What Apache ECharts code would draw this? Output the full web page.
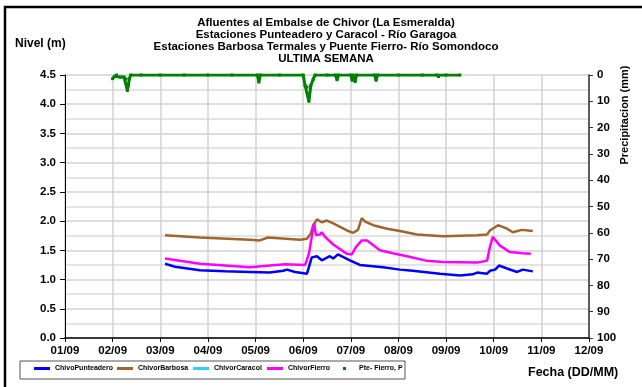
<!DOCTYPE html>
<html>
<head>
<meta charset="utf-8">
<script src="https://cdn.jsdelivr.net/npm/echarts@6/dist/echarts.min.js"></script>
<style>
html,body{margin:0;padding:0;background:#fff;}
#main{width:642px;height:387px;}
</style>
</head>
<body>
<div id="main"></div>
<script>
// etiquetas del eje x (dias desde 01/09)
var dayLabels = ['01/09','02/09','03/09','04/09','05/09','06/09','07/09','08/09','09/09','10/09','11/09','12/09'];

// ChivoPunteadero - nivel (m)
var punteaderoT = [2.10,2.31,2.83,3.36,3.88,4.30,4.58,4.66,4.83,5.08,5.10,5.18,5.29,5.39,5.56,5.63,5.73,5.98,6.19,6.68,7.03,7.30,7.87,8.29,8.56,8.65,8.86,8.92,9.03,9.11,9.28,9.49,9.61,9.82];
var punteaderoV = [1.27,1.22,1.16,1.14,1.13,1.12,1.15,1.17,1.13,1.10,1.12,1.38,1.40,1.33,1.40,1.36,1.43,1.33,1.25,1.21,1.17,1.15,1.10,1.07,1.09,1.12,1.10,1.15,1.17,1.24,1.19,1.13,1.17,1.14];

// ChivorBarbosa
var barbosaT = [2.10,2.83,3.88,4.09,4.26,4.93,5.08,5.16,5.21,5.29,5.39,5.50,5.63,5.92,6.05,6.15,6.23,6.30,6.47,6.76,7.03,7.39,7.93,8.65,8.86,8.92,9.09,9.28,9.40,9.59,9.82];
var barbosaV = [1.76,1.72,1.68,1.67,1.72,1.68,1.70,1.79,1.93,2.03,1.98,2.01,1.96,1.84,1.80,1.85,2.05,1.99,1.93,1.87,1.83,1.77,1.74,1.76,1.77,1.84,1.93,1.87,1.81,1.85,1.83];

// ChivorCaracol (sin datos)
var caracolT = [];
var caracolV = [];

// ChivorFierro
var fierroT = [2.10,2.83,3.88,4.30,4.62,5.04,5.12,5.18,5.23,5.27,5.35,5.39,5.46,5.63,5.92,6.02,6.11,6.23,6.34,6.61,6.88,7.18,7.60,7.93,8.65,8.86,8.92,8.98,9.13,9.34,9.61,9.78];
var fierroV = [1.36,1.27,1.21,1.24,1.26,1.25,1.44,1.73,1.96,1.76,1.77,1.81,1.73,1.60,1.44,1.43,1.56,1.67,1.67,1.50,1.45,1.40,1.32,1.30,1.29,1.32,1.56,1.73,1.58,1.47,1.45,1.44];

// Pte- Fierro, P - precipitacion (mm)
var precipT = [1.00,1.04,1.08,1.16,1.24,1.28,1.31,1.33,1.35,1.38,1.60,2.00,2.50,3.00,3.50,4.04,4.07,4.10,4.50,5.00,5.04,5.08,5.12,5.16,5.21,5.25,5.50,5.68,5.71,5.74,6.00,6.03,6.05,6.09,6.12,6.50,6.53,6.56,7.00,7.50,7.80,7.84,8.00,8.29];
var precipV = [1.4,0.5,0,0.8,0.8,1.5,5.9,4.0,1.5,0,0,0,0,0,0,0,2.7,0,0,0,4.0,4.6,10.0,4.0,1.6,0,0,0,1.8,0,0,2.0,0,2.5,0,0,2.0,0,0,0,0,0.6,0,0];

var legendNames = ['ChivoPunteadero','ChivorBarbosa','ChivorCaracol','ChivorFierro','Pte- Fierro, P'];
var legendLeft = [34,117,193,267,343];

function pares(t, v) {
	var out = [];
	for (var i = 0; i < t.length; i++) out.push([t[i], v[i]]);
	return out;
}

var myChart = echarts.init(document.getElementById('main'));

// una leyenda por item para colocarlas como en el original
var legends = [];
for (var i = 0; i < legendNames.length; i++) {
	var isP = i === 4;
	legends.push({
		data: [{name: legendNames[i], icon: 'rect'}],
		left: legendLeft[i],
		top: 365,
		padding: 0,
		itemWidth: isP ? 3 : 16,
		itemHeight: 3,
		itemGap: 4,
		selectedMode: false,
		textStyle: {color:'#000', fontSize:7, fontWeight:'bold', fontFamily:'Liberation Sans, Arial', padding:[0,0,0,isP ? 8 : 0]}
	});
}

var option = {
	animation: false,
	legend: legends,
	grid: {left: 65, right: 53, top: 75, bottom: 49},
	xAxis: {
		type: 'value',
		min: 0,
		max: 11,
		interval: 1,
		axisLine: {lineStyle: {color: '#000', width: 1.5}},
		axisTick: {show: true, length: 4, lineStyle: {color: '#000'}},
		axisLabel: {
			color:'#000', fontWeight:'bold', fontSize:11.5, fontFamily:'Liberation Sans, Arial', margin: 7,
			formatter: function (v) { return dayLabels[v]; }
		},
		splitLine: {show: true, lineStyle: {color: '#d2d2d2', width: 1.5}}
	},
	yAxis: [
		{
			type: 'value',
			min: 0,
			max: 4.5,
			interval: 0.5,
			position: 'left',
			axisLine: {show: true, lineStyle: {color: '#000', width: 1}},
			axisTick: {show: true, length: 5, lineStyle: {color: '#000'}},
			axisLabel: {
				color:'#000', fontWeight:'bold', fontSize:11.5, fontFamily:'Liberation Sans, Arial', margin: 9,
				formatter: function (v) { return v.toFixed(1); }
			},
			splitLine: {show: true, lineStyle: {color: '#d2d2d2', width: 1.5}},
			minorSplitLine: {show: true, lineStyle: {color: '#dcdcdc', width: 1.5}},
			minorTick: {show: false, splitNumber: 2}
		},
		{
			type: 'value',
			min: 0,
			max: 100,
			interval: 10,
			inverse: true,
			position: 'right',
			axisLine: {show: true, lineStyle: {color: '#333', width: 1.5}},
			axisTick: {show: true, length: 4, inside: false, lineStyle: {color: '#333'}},
			axisLabel: {color:'#000', fontWeight:'bold', fontSize:11.5, fontFamily:'Liberation Sans, Arial', margin: 8},
			splitLine: {show: false}
		}
	],
	graphic: [
		{type: 'rect', shape: {x: 5, y: 7, width: 700, height: 400}, style: {fill: 'none', stroke: '#000', lineWidth: 2.5}, silent: true},
		{type: 'text', left: 2, top: -9, style: {text: 'valores altos.', fill: '#000', font: 'bold 12px Liberation Sans, Arial'}},
		{type: 'text', x: 326, y: 17, style: {text: 'Afluentes al Embalse de Chivor (La Esmeralda)\nEstaciones Punteadero y Caracol - Río Garagoa\nEstaciones Barbosa Termales y Puente Fierro- Río Somondoco\nULTIMA SEMANA', fill: '#000', align: 'center', lineHeight: 12, font: 'bold 11.5px Liberation Sans, Arial'}},
		{type: 'text', x: 15, y: 38, style: {text: 'Nivel (m)', fill: '#000', font: 'bold 12px Liberation Sans, Arial'}},
		{type: 'text', x: 625, y: 115, rotation: Math.PI / 2, style: {text: 'Precipitacion (mm)', fill: '#000', align: 'center', verticalAlign: 'middle', font: 'bold 11px Liberation Sans, Arial'}},
		{type: 'text', x: 528, y: 366, style: {text: 'Fecha (DD/MM)', fill: '#000', font: 'bold 12.5px Liberation Sans, Arial'}},
		{type: 'rect', shape: {x: 20, y: 361, width: 385, height: 18}, style: {fill: 'none', stroke: '#555', lineWidth: 1}, silent: true}
	],
	series: [
		{
			name: 'ChivoPunteadero', type: 'line', yAxisIndex: 0, showSymbol: false,
			itemStyle: {color: '#0000ff'}, lineStyle: {color: '#0000ff', width: 2.5},
			data: pares(punteaderoT, punteaderoV)
		},
		{
			name: 'ChivorBarbosa', type: 'line', yAxisIndex: 0, showSymbol: false,
			itemStyle: {color: '#a0642d'}, lineStyle: {color: '#a0642d', width: 2.5},
			data: pares(barbosaT, barbosaV)
		},
		{
			name: 'ChivorCaracol', type: 'line', yAxisIndex: 0, showSymbol: false,
			itemStyle: {color: '#33ccff'}, lineStyle: {color: '#33ccff', width: 2.5},
			data: pares(caracolT, caracolV)
		},
		{
			name: 'ChivorFierro', type: 'line', yAxisIndex: 0, showSymbol: false,
			itemStyle: {color: '#ff00ff'}, lineStyle: {color: '#ff00ff', width: 2.5},
			data: pares(fierroT, fierroV)
		},
		{
			name: 'Pte- Fierro, P', type: 'line', yAxisIndex: 1,
			symbol: 'rect', symbolSize: 3, showAllSymbol: true,
			itemStyle: {color: '#008000'}, lineStyle: {color: '#008000', width: 3},
			data: pares(precipT, precipV)
		}
	]
};
myChart.setOption(option);
</script>
</body>
</html>
